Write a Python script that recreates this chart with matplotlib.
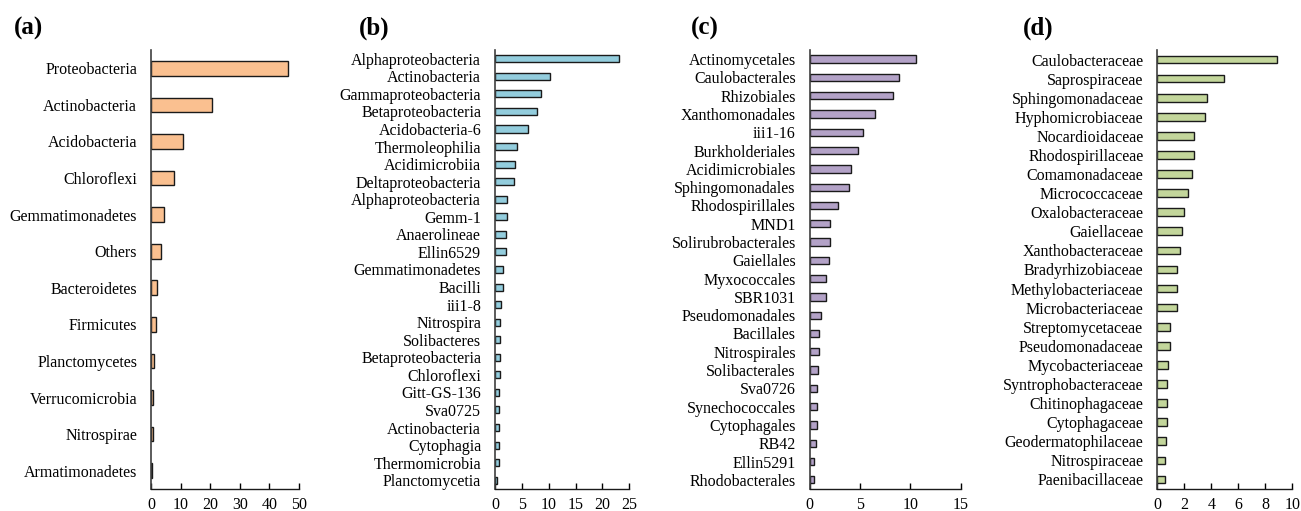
import matplotlib
matplotlib.use('Agg')
from matplotlib import pyplot as plt

plt.rcParams['font.family'] = 'Liberation Serif'

# (a) phylum
phylum = ['Proteobacteria', 'Actinobacteria', 'Acidobacteria', 'Chloroflexi',
          'Gemmatimonadetes', 'Others', 'Bacteroidetes', 'Firmicutes',
          'Planctomycetes', 'Verrucomicrobia', 'Nitrospirae', 'Armatimonadetes']
phylum_val = [46.2, 20.7, 10.7, 7.9, 4.4, 3.2, 2.0, 1.6, 1.1, 0.8, 0.8, 0.3]

# (b) class
cls = ['Alphaproteobacteria', 'Actinobacteria', 'Gammaproteobacteria',
       'Betaproteobacteria', 'Acidobacteria-6', 'Thermoleophilia',
       'Acidimicrobiia', 'Deltaproteobacteria', 'Alphaproteobacteria',
       'Gemm-1', 'Anaerolineae', 'Ellin6529', 'Gemmatimonadetes', 'Bacilli',
       'iii1-8', 'Nitrospira', 'Solibacteres', 'Betaproteobacteria',
       'Chloroflexi', 'Gitt-GS-136', 'Sva0725', 'Actinobacteria',
       'Cytophagia', 'Thermomicrobia', 'Planctomycetia']
cls_val = [23.1, 10.3, 8.6, 7.9, 6.2, 4.0, 3.8, 3.5, 2.2, 2.2, 2.0, 2.0,
           1.55, 1.4, 1.2, 0.93, 0.9, 0.9, 0.9, 0.7, 0.7, 0.7, 0.7, 0.7, 0.45]

# (c) order
order = ['Actinomycetales', 'Caulobacterales', 'Rhizobiales', 'Xanthomonadales',
         'iii1-16', 'Burkholderiales', 'Acidimicrobiales', 'Sphingomonadales',
         'Rhodospirillales', 'MND1', 'Solirubrobacterales', 'Gaiellales',
         'Myxococcales', 'SBR1031', 'Pseudomonadales', 'Bacillales',
         'Nitrospirales', 'Solibacterales', 'Sva0726', 'Synechococcales',
         'Cytophagales', 'RB42', 'Ellin5291', 'Rhodobacterales']
order_val = [10.56, 8.9, 8.3, 6.45, 5.3, 4.8, 4.1, 3.9, 2.85, 2.0, 2.0, 1.9,
             1.65, 1.65, 1.16, 0.96, 0.96, 0.83, 0.7, 0.7, 0.7, 0.6, 0.46, 0.46]

# (d) family
family = ['Caulobacteraceae', 'Saprospiraceae', 'Sphingomonadaceae',
          'Hyphomicrobiaceae', 'Nocardioidaceae', 'Rhodospirillaceae',
          'Comamonadaceae', 'Micrococcaceae', 'Oxalobacteraceae', 'Gaiellaceae',
          'Xanthobacteraceae', 'Bradyrhizobiaceae', 'Methylobacteriaceae',
          'Microbacteriaceae', 'Streptomycetaceae', 'Pseudomonadaceae',
          'Mycobacteriaceae', 'Syntrophobacteraceae', 'Chitinophagaceae',
          'Cytophagaceae', 'Geodermatophilaceae', 'Nitrospiraceae',
          'Paenibacillaceae']
family_val = [8.9, 4.96, 3.65, 3.55, 2.7, 2.7, 2.6, 2.27, 2.0, 1.85, 1.65,
              1.48, 1.48, 1.48, 0.96, 0.96, 0.79, 0.72, 0.72, 0.72, 0.62,
              0.54, 0.54]

panels = [
    ('(a)', phylum, phylum_val, '#FAC090', 50, 10, [0.1161, 0.0431, 0.1137, 0.8591], 0.011),
    ('(b)', cls, cls_val, '#93CDDD', 25, 5, [0.3805, 0.0431, 0.1032, 0.8591], 0.276),
    ('(c)', order, order_val, '#B3A2C7', 15, 5, [0.6224, 0.0431, 0.1161, 0.8591], 0.531),
    ('(d)', family, family_val, '#C3D69B', 10, 2, [0.8895, 0.0431, 0.1038, 0.8591], 0.786),
]

fig = plt.figure(figsize=(13.01, 5.11), dpi=100)

for tag, names, vals, color, xmax, step, rect, tx in panels:
    ax = fig.add_axes(rect)
    pos = list(range(len(names)))
    ax.barh(pos, vals, height=0.4, color=color, edgecolor='#1a1a1a', linewidth=1.0)
    ax.set_yticks(pos)
    ax.set_yticklabels(names, fontsize=11.5)
    ax.set_ylim(len(names) - 0.5, -0.5)
    ax.set_xlim(0, xmax)
    ax.set_xticks(range(0, xmax + 1, step))
    ax.tick_params(axis='x', direction='in', length=4, width=1, labelsize=11.5, pad=6)
    ax.tick_params(axis='y', length=0, pad=10)
    for s in ['top', 'right']:
        ax.spines[s].set_visible(False)
    ax.spines['left'].set_color('#404040')
    ax.spines['left'].set_linewidth(1.2)
    ax.spines['bottom'].set_color('#1a1a1a')
    ax.spines['bottom'].set_linewidth(1.0)
    fig.text(tx, 0.945, tag, fontsize=18, fontweight='bold', va='center', ha='left')

fig.savefig('out.png', dpi=100)
